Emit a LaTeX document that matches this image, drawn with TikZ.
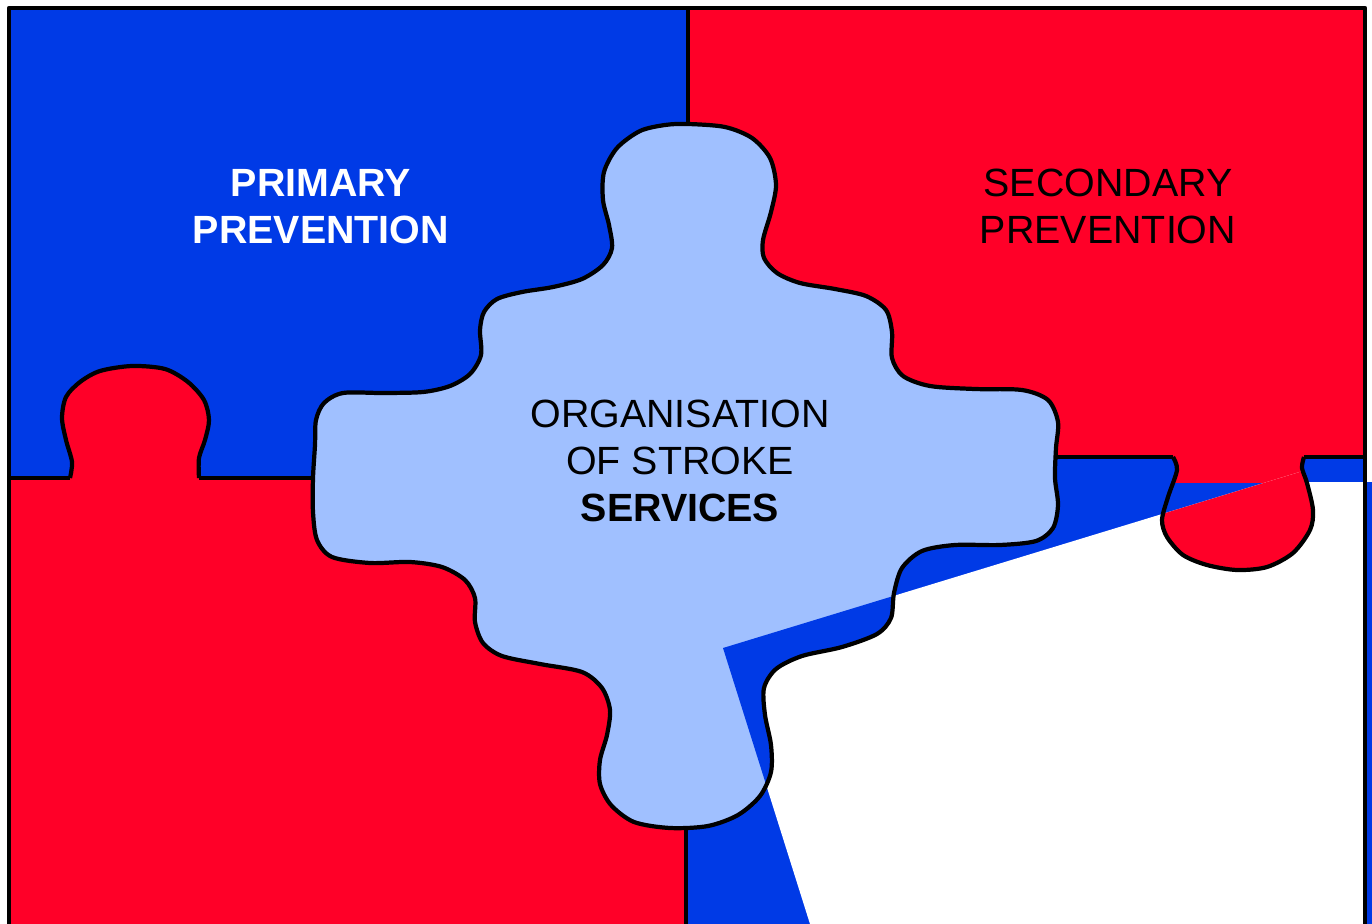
\documentclass[tikz,border=0pt]{standalone}
\usepackage{fontspec}
\setmainfont{Liberation Sans}
\usepackage{xcolor}
\usetikzlibrary{positioning}

\definecolor{pieceblue}{RGB}{0,58,230}
\definecolor{piecered}{RGB}{255,0,40}
\definecolor{paleblue}{RGB}{160,192,255}

\newcommand{\centrepiece}{plot[smooth cycle] coordinates {(688,124) (725,127) (752,138) (770,158) (776,185) (771,212) (763,240) (764,258) (777,273) (800,283) (835,289) (866,296) (886,310) (892,332) (892,358) (903,376) (930,386) (975,389) (1022,390) (1048,400) (1058,422) (1056,448) (1055,478) (1058,505) (1053,528) (1036,541) (1000,545) (955,545) (922,551) (902,568) (894,593) (891,618) (877,634) (842,647) (802,656) (776,669) (764,688) (765,715) (771,745) (771,772) (760,796) (738,815) (708,826) (670,828) (634,822) (611,805) (600,784) (600,760) (607,735) (610,710) (602,688) (582,672) (540,664) (502,656) (483,643) (475,622) (475,598) (465,580) (442,567) (410,562) (370,563) (332,557) (317,540) (313,512) (313,478) (315,445) (316,420) (324,403) (343,393) (383,393) (423,392) (450,386) (470,374) (481,355) (480,330) (484,312) (497,299) (522,292) (553,287) (582,279) (603,265) (612,248) (609,225) (603,200) (604,172) (617,148) (640,131) (665,125)}}
\newcommand{\lefttab}{plot[smooth] coordinates {(70,478) (72,462) (66,440) (62,418) (66,397) (80,382) (100,371) (132,366) (165,369) (188,382) (204,400) (209,420) (205,440) (199,458) (199,478)}}
\newcommand{\righttab}{plot[smooth] coordinates {(1173,457) (1177,470) (1168,497) (1162,520) (1167,537) (1183,555) (1207,565) (1237,570) (1267,567) (1293,553) (1310,530) (1313,510) (1307,483) (1302,468) (1304,457)}}
\newcommand{\pagecorner}{(723,648) -- (1303,471) -- (1308,482) -- (1365,482) -- (1365,924) -- (810,924) -- cycle}

\begin{document}
\begin{tikzpicture}[x=0.01cm, y=-0.01cm]
	\tikzstyle{outline}
	  =[draw=black, line width=1.2pt, line join=round]
	\tikzstyle{piecetext}
	  =[inner sep=0pt, text height=0.3cm, text depth=0.16cm,
	  font=\fontsize{11.2pt}{13pt}\selectfont]
	\tikzstyle{piecetext-bf}
	  =[piecetext, font=\fontsize{11.2pt}{13pt}\selectfont\bfseries]

	\useasboundingbox (0,0) rectangle (1372,924);

	\fill[pieceblue] (9,8) rectangle (688,478);
	\fill[piecered] (688,8) rectangle (1365,457);
	\fill[piecered] (9,478) rectangle (686,924);
	\fill[pieceblue] (686,457) rectangle (1365,924);
	\fill[pieceblue] (1365,482) rectangle (1372,924);
	\fill[piecered] \lefttab -- cycle;

	\begin{scope}
	  \clip (1100,0) rectangle (1372,482);
	  \fill[piecered] \righttab -- cycle;
	\end{scope}
	\fill[white] \pagecorner;
	\begin{scope}
	  \clip \pagecorner;
	  \fill[piecered] \righttab -- cycle;
	\end{scope}

	\draw[outline] (9,924) -- (9,8) -- (1365,8) -- (1365,924);
	\draw[outline] (688,8) -- (688,130);
	\draw[outline] (686,820) -- (686,924);
	\draw[outline] (9,478) -- (70,478);
	\draw[outline] \lefttab;
	\draw[outline] (199,478) -- (316,478);
	\draw[outline] (1055,457) -- (1173,457);
	\draw[outline] \righttab;
	\draw[outline] (1304,457) -- (1365,457);

	\fill[paleblue] \centrepiece;
	\begin{scope}
	  \clip \pagecorner;
	  \fill[pieceblue] \centrepiece;
	\end{scope}
	\draw[outline] \centrepiece;

	\node[piecetext-bf, text=white] (primary)
	  at (321,189) {PRIMARY};
	\node[piecetext-bf, text=white] (primary2)
	  [below=0pt of primary] {PREVENTION};

	\node[piecetext] (secondary)
	  at (1108,189) {SECONDARY};
	\node[piecetext] (secondary2)
	  [below=0pt of secondary] {PREVENTION};

	\node[piecetext] (organisation)
	  at (680,420) {ORGANISATION};
	\node[piecetext] (stroke)
	  [below=0pt of organisation] {OF STROKE};
	\node[piecetext-bf] (services)
	  [below=0pt of stroke] {SERVICES};
\end{tikzpicture}
\end{document}
